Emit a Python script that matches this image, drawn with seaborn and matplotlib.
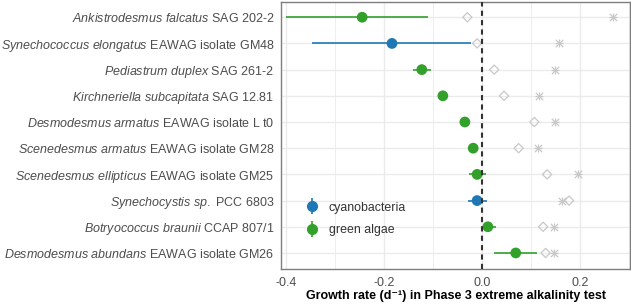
import numpy as np
import pandas as pd
import matplotlib
matplotlib.use("Agg")
import matplotlib.pyplot as plt
import seaborn as sns
from matplotlib.lines import Line2D
from matplotlib.legend_handler import HandlerTuple

# ---------------------------------------------------------------
# datos
# ---------------------------------------------------------------
species = ["Ankistrodesmus falcatus", "Synechococcus elongatus", "Pediastrum duplex",
           "Kirchneriella subcapitata", "Desmodesmus armatus", "Scenedesmus armatus",
           "Scenedesmus ellipticus", "Synechocystis sp.", "Botryococcus braunii",
           "Desmodesmus abundans"]
strain = ["SAG 202-2", "EAWAG isolate GM48", "SAG 261-2", "SAG 12.81", "EAWAG isolate L t0",
          "EAWAG isolate GM28", "EAWAG isolate GM25", "PCC 6803", "CCAP 807/1",
          "EAWAG isolate GM26"]
group = ["green algae", "cyanobacteria", "green algae", "green algae", "green algae",
         "green algae", "green algae", "cyanobacteria", "green algae", "green algae"]
rate = [-0.245, -0.184, -0.123, -0.080, -0.035, -0.018, -0.010, -0.010, 0.012, 0.069]
rate_lo = [-0.400, -0.347, -0.141, -0.086, -0.043, -0.024, -0.026, -0.029, -0.003, 0.024]
rate_hi = [-0.110, -0.023, -0.105, -0.074, -0.027, -0.012, 0.008, 0.010, 0.028, 0.112]
ref_diamond = [-0.030, -0.010, 0.025, 0.045, 0.107, 0.075, 0.133, 0.178, 0.125, 0.130]
ref_star = [0.267, 0.158, 0.149, 0.116, 0.150, 0.114, 0.197, 0.164, 0.147, 0.148]

def etiqueta(sp, st):
    return r"$\mathit{" + sp.replace(" ", r"\ ") + "}$ " + st

labels = [etiqueta(a, b) for a, b in zip(species, strain)]
df = pd.DataFrame({"label": labels, "group": group, "rate": rate,
                   "lo": rate_lo, "hi": rate_hi,
                   "diamond": ref_diamond, "star": ref_star})

palette = {"cyanobacteria": "#1f78b4", "green algae": "#33a02c"}
GREY = "#c8c8c8"

# ---------------------------------------------------------------
# figura
# ---------------------------------------------------------------
sns.set_theme(style="whitegrid")
plt.rcParams["font.family"] = ["Liberation Sans", "DejaVu Sans"]
plt.rcParams["mathtext.fontset"] = "custom"
plt.rcParams["mathtext.it"] = "Liberation Sans:italic"
plt.rcParams["mathtext.rm"] = "Liberation Sans"
plt.rcParams["mathtext.bf"] = "Liberation Sans:bold"

fig, ax = plt.subplots(figsize=(6.31, 3.06), dpi=100)
fig.subplots_adjust(left=0.446, right=0.998, top=0.995, bottom=0.122)

# marcadores grises de referencia
sns.scatterplot(data=df, x="diamond", y="label", marker="D", s=22,
                facecolor="none", edgecolor=GREY, linewidth=0.9, ax=ax, zorder=3)
for m in ["+", "x"]:
    sns.scatterplot(data=df, x="star", y="label", marker=m, s=28,
                    color=GREY, linewidth=0.9, ax=ax, zorder=3)

# rangos
ax.hlines(y=df["label"], xmin=df["lo"], xmax=df["hi"],
          colors=[palette[g] for g in df["group"]], lw=1.2, zorder=4)

sns.scatterplot(data=df, x="rate", y="label", hue="group", palette=palette,
                s=60, edgecolor="none", ax=ax, zorder=5, legend=False)

ax.axvline(0, color="#333333", lw=1.5, ls=(0, (2.5, 2)), zorder=6)

ax.set_xlim(-0.41, 0.302)
ax.set_ylim(len(labels) - 0.4, -0.6)
ax.set_xticks([-0.4, -0.2, 0.0, 0.2])
ax.set_xticklabels(["-0.4", "-0.2", "0.0", "0.2"])
ax.set_xticks([-0.3, -0.1, 0.1, 0.3], minor=True)
ax.grid(True, which="major", color="#ebebeb", lw=1.0)
ax.grid(True, which="minor", axis="x", color="#ebebeb", lw=0.6)
ax.set_axisbelow(True)
for s in ax.spines.values():
    s.set_color("#7f7f7f")
    s.set_linewidth(1.0)

ax.tick_params(axis="both", which="major", length=3, width=0.8, color="#333333",
               labelsize=9.0, labelcolor="#4d4d4d", pad=2)
ax.tick_params(axis="x", which="major", pad=3)
ax.tick_params(axis="x", which="minor", length=0)
ax.set_ylabel("")
ax.set_xlabel("Growth rate (d\u207b\u00b9) in Phase 3 extreme alkalinity test",
              fontsize=9.0, fontweight="bold", color="black", labelpad=1,
              family=["Liberation Sans", "DejaVu Sans"])

# leyenda tipo pointrange
handles = []
for g in ["cyanobacteria", "green algae"]:
    c = palette[g]
    handles.append((Line2D([], [], ls="none", marker="|", ms=11, mew=1.2, color=c),
                    Line2D([], [], ls="none", marker="o", ms=7, color=c)))
ax.legend(handles, ["cyanobacteria", "green algae"],
          handler_map={tuple: HandlerTuple(ndivide=1, pad=0)},
          loc="lower left", bbox_to_anchor=(0.03, 0.08), frameon=False,
          fontsize=8.9, handlelength=1.4, labelspacing=0.85, handletextpad=0.7)
for t in ax.get_legend().get_texts():
    t.set_color("#333333")

fig.savefig("out.png", dpi=100)
